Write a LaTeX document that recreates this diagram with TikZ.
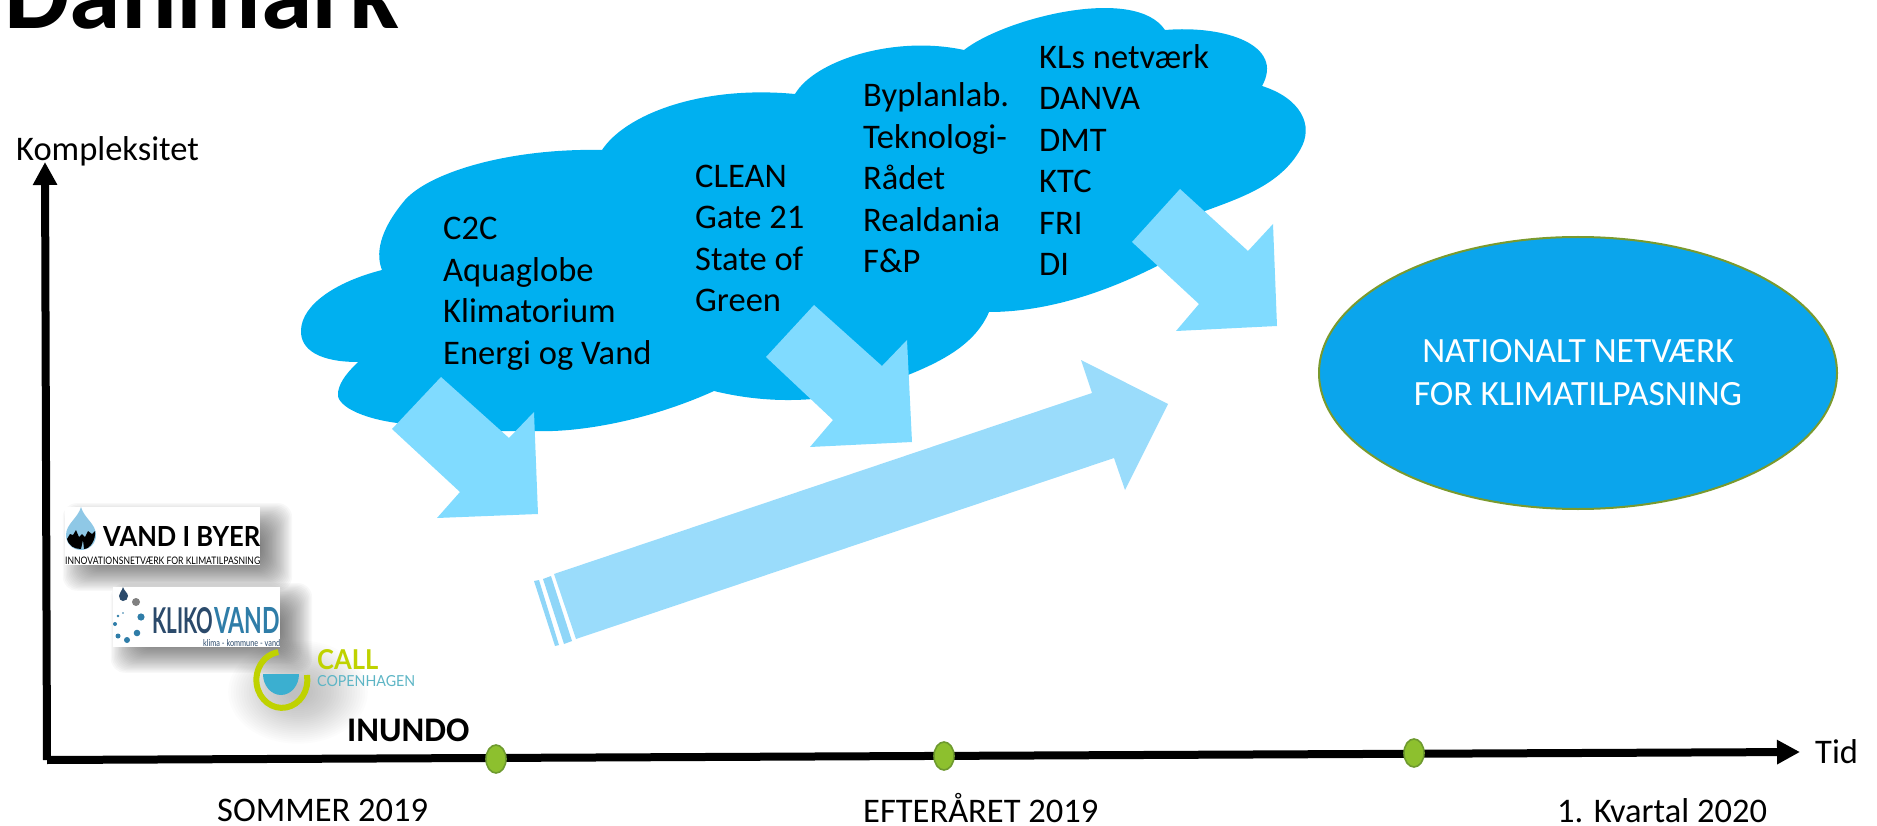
\documentclass[tikz,border=0pt]{standalone}
\usepackage{fontspec}
\setmainfont{Carlito}
\newfontfamily\logofont{Lato}
\usetikzlibrary{arrows.meta,shapes.geometric}
\definecolor{cloudblue}{HTML}{00B0F0}
\definecolor{arrowblue}{HTML}{80DBFF}
\definecolor{bigarrow}{HTML}{9ADCFB}
\definecolor{stripeblue}{HTML}{8FD6F8}
\definecolor{ovalblue}{HTML}{0BA5EC}
\definecolor{ovalline}{HTML}{7A9A2E}
\definecolor{dotgreen}{HTML}{8DC02E}
\definecolor{dotline}{HTML}{6E9A2F}
\definecolor{limegreen}{HTML}{BFD200}
\definecolor{tealcall}{HTML}{5DB5C5}
\definecolor{bowlblue}{HTML}{3BAFD0}
\definecolor{navy}{HTML}{2B4A6B}
\definecolor{klikoblue}{HTML}{2F7DA8}
\definecolor{dropblue}{HTML}{8FC8E6}
\newcommand{\softshadow}[4]{%
  \foreach \k in {0,...,23}{%
    \fill[black,opacity=.026,rounded corners=14pt]
      ({#1+30-\k*1.4},{#2+26-\k*1.3}) rectangle ({#3+1+\k*1.35},{#4-3+\k*1.25});
  }}
\newcommand{\fitted}[3]{\resizebox{#1pt}{#2pt}{#3}}
\tikzset{
  x=1pt,y=-1pt,
  body/.style={font=\fontsize{34.5}{41.5}\selectfont,align=left,anchor=base west,inner sep=0pt,text=black},
  axislabel/.style={font=\fontsize{34.5}{40}\selectfont,anchor=base west,inner sep=0pt,text=black},
  logotext/.style={anchor=base west,inner sep=0pt,font=\logofont},
  axisline/.style={line width=8pt,black,-{Triangle[width=23pt,length=23pt]}},
  blockarrow/.style={fill=arrowblue},
  milestone/.style={ellipse,draw=dotline,line width=1.6pt,fill=dotgreen,minimum width=20pt,minimum height=28pt,inner sep=0pt},
  oval/.style={ellipse,draw=ovalline,line width=2pt,fill=ovalblue,minimum width=518pt,minimum height=272pt,inner sep=0pt,text=white,align=center,font=\fontsize{35.5}{43}\selectfont},
  logobox/.style={fill=white}
}
\begin{document}
\begin{tikzpicture}
\useasboundingbox (0,0) rectangle (1877,826);
\clip (0,0) rectangle (1877,826);
% title
\node[anchor=base west,inner sep=0pt,font=\fontsize{104}{110}\bfseries\selectfont] (title) at (4,29) {Danmark};
% cloud
\fill[cloudblue] (382,270)
  .. controls (376,255) and (378,232) .. (405,200)
  .. controls (430,172) and (510,148) .. (602,150)
  .. controls (625,115) and (700,85) .. (795,94)
  .. controls (815,60) and (895,35) .. (964,50)
  .. controls (1005,18) and (1135,-15) .. (1165,30)
  .. controls (1225,25) and (1285,45) .. (1262,86)
  .. controls (1300,98) and (1315,125) .. (1300,150)
  .. controls (1280,185) and (1240,198) .. (1205,211)
  -- (1157,266)
  .. controls (1110,290) and (1050,312) .. (989,312)
  .. controls (975,345) and (940,362) .. (908,375)
  .. controls (870,392) and (800,412) .. (714,391)
  .. controls (650,420) and (580,433) .. (533,431)
  .. controls (480,432) and (430,428) .. (397,423)
  .. controls (360,418) and (335,405) .. (338,392)
  .. controls (340,380) and (350,370) .. (358,362)
  .. controls (320,362) and (300,350) .. (301,330)
  .. controls (302,305) and (335,282) .. (382,270) -- cycle;
% cloud texts
\node[body] (t1) at (443,364) {C2C\\Aquaglobe\\Klimatorium\\Energi og Vand};
\node[body] (t2) at (695,312) {CLEAN\\Gate 21\\State of\\Green};
\node[body] (t3) at (863,273) {Byplanlab.\\Teknologi-\\Rådet\\Realdania\\F\&P};
\node[body] (t4) at (1039,276) {KLs netværk\\DANVA\\DMT\\KTC\\FRI\\DI};
% block arrows
\fill[blockarrow] (441,377) -- (392,429) -- (460,492) -- (437,518) -- (538,514) -- (534,412) -- (509,438) -- cycle;
\fill[blockarrow] (814,305) -- (766,357) -- (833,420) -- (810,447) -- (912,442) -- (907,340) -- (882,366) -- cycle;
\fill[blockarrow] (1180,189) -- (1132,242) -- (1199,304) -- (1176,331) -- (1277,326) -- (1273,224) -- (1248,251) -- cycle;
% big arrow
\fill[bigarrow] (554,574) -- (1092,393) -- (1081,360) -- (1168,404) -- (1125,490) -- (1114,458) -- (576,639) -- cycle;
\fill[stripeblue] (543,579) -- (551,576) -- (572,641) -- (564,644) -- cycle;
\fill[stripeblue] (534,581) -- (539,580) -- (559,645) -- (555,646) -- cycle;
% oval
\node[oval] (net) at (1578,373) {NATIONALT NETVÆRK\\FOR KLIMATILPASNING};
% logo shadows
\softshadow{65}{507}{260}{565}
\softshadow{113}{587}{280}{647}
\foreach \k in {0,...,23}{\fill[black,opacity=.013] (298,692) ellipse ({10+\k*2.6} and {8+\k*1.9});}
% Vand i Byer
\node[logobox,minimum width=195pt,minimum height=58pt,inner sep=0pt] (vib) at (162.5,536) {};
\fill[dropblue] (81,507) .. controls (78,518) and (66,524) .. (66,535) .. controls (66,544) and (73,550) .. (81,550) .. controls (89,550) and (96,544) .. (96,535) .. controls (96,524) and (84,518) .. (81,507) -- cycle;
\fill[black] (67,539) -- (70,534) -- (73,535) -- (76,530) -- (79,537) -- (82,534) -- (85,537) -- (88,531) -- (92,534) -- (95,531) .. controls (96,540) and (90,549) .. (84,549) -- (83,540) -- (81,549) .. controls (74,549) and (69,546) .. (67,539) -- cycle;
\node[logotext,font=\logofont\bfseries] (vibt) at (103,546) {\fitted{157}{20}{VAND I BYER}};
\node[logotext] (vibs) at (65,564) {\fitted{195}{7.5}{INNOVATIONSNETVÆRK FOR KLIMATILPASNING}};
% Call Copenhagen
\draw[limegreen,line width=6pt] (307,675) arc[start angle=-10,end angle=262,x radius=25.5,y radius=28];
\fill[bowlblue] (263,674) -- (299,674) arc[start angle=0,end angle=180,x radius=18,y radius=21] -- cycle;
\node[logotext,font=\logofont\bfseries,text=limegreen] (callt) at (317,669) {\fitted{61}{20}{CALL}};
\node[logotext,text=tealcall] (calls) at (317,686) {\fitted{98}{11}{COPENHAGEN}};
% Klikovand
\node[logobox,minimum width=167pt,minimum height=60pt,inner sep=0pt] (kv) at (196.5,617) {};
\fill[navy] (123,587) .. controls (122,591) and (119,593) .. (119,596) .. controls (119,599) and (121,601) .. (123,601) .. controls (126,601) and (128,599) .. (128,596) .. controls (128,593) and (124,591) .. (123,587) -- cycle;
\fill[gray] (136,602) circle (4);
\fill[klikoblue] (141,617) circle (3.6);
\fill[klikoblue] (137,633) circle (3.3);
\fill[klikoblue] (127,640) circle (3);
\fill[klikoblue] (118,636) circle (2.5);
\fill[klikoblue] (115,624) circle (2);
\fill[klikoblue] (118,616) circle (1.4);
\fill[klikoblue] (123,613) circle (.9);
\node[logotext,font=\logofont\bfseries,text=navy] (kv1) at (152,633) {\fitted{61}{26}{KLIKO}};
\node[logotext,font=\logofont\bfseries,text=klikoblue] (kv2) at (214,633) {\fitted{66}{26}{VAND}};
\node[logotext,text=navy] (kv3) at (203,646) {\fitted{77}{7}{klima - kommune - vand}};
% axes
\coordinate (origin) at (47,760);
\coordinate (ytip) at (45,162);
\coordinate (xtip) at (1800,752);
\draw[axisline] (origin) -- (ytip);
\draw[axisline] (origin) -- (xtip);
\node[milestone] (m1) at (496,759) {};
\node[milestone] (m2) at (944,756) {};
\node[milestone] (m3) at (1414,753) {};
% axis labels
\node[axislabel] (ylab) at (16,161) {Kompleksitet};
\node[axislabel] (xlab) at (1815,763) {Tid};
\node[axislabel,font=\fontsize{34.5}{40}\bfseries\selectfont] (inundo) at (347,741) {INUNDO};
\node[axislabel] (p1) at (217,821) {SOMMER 2019};
\node[axislabel] (p2) at (863,822) {EFTERÅRET 2019};
\node[axislabel] (p3) at (1557,822) {1. Kvartal 2020};
\end{tikzpicture}
\end{document}
